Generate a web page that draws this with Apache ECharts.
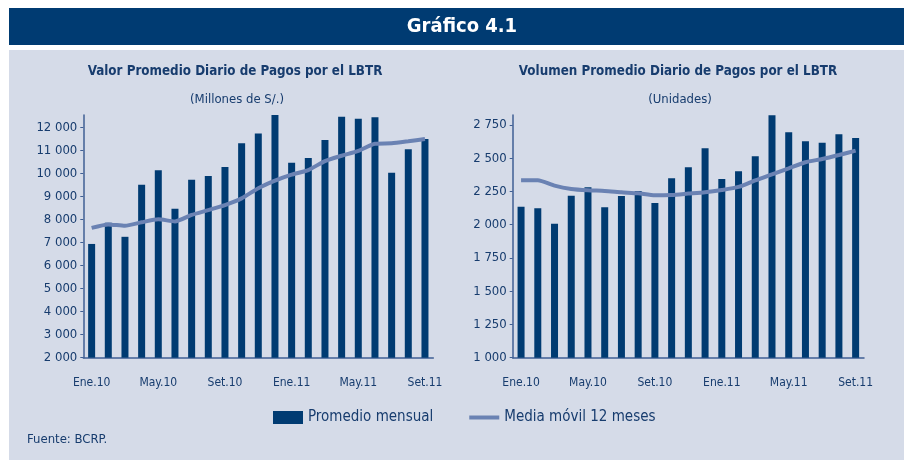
<!DOCTYPE html>
<html>
<head>
<meta charset="utf-8">
<script src="https://cdn.jsdelivr.net/npm/echarts@6/dist/echarts.min.js"></script>
<style>
  html, body { margin: 0; padding: 0; background: #fff; }
  #chart { width: 904px; height: 460px; }
</style>
</head>
<body>
<div id="chart"></div>
<script>
const months = ['Ene.10', 'Feb.10', 'Mar.10', 'Abr.10', 'May.10', 'Jun.10', 'Jul.10', 'Ago.10', 'Set.10', 'Oct.10', 'Nov.10', 'Dic.10',
  'Ene.11', 'Feb.11', 'Mar.11', 'Abr.11', 'May.11', 'Jun.11', 'Jul.11', 'Ago.11', 'Set.11']

// Valor promedio diario (millones de S/.)
const valorMensual = [6940, 7860, 7250, 9510, 10140, 8470, 9730, 9890, 10280, 11310, 11740, 12540,
  10470, 10670, 11450, 12460, 12380, 12440, 10030, 11050, 11500]
const valorMedia = [7640, 7790, 7730, 7880, 8010, 7920, 8200, 8410, 8630, 8920, 9360, 9690,
  9950, 10150, 10540, 10770, 10980, 11290, 11310, 11400, 11500]

// Volumen promedio diario (unidades)
const volumenMensual = [2136, 2124, 2008, 2218, 2281, 2131, 2216, 2254, 2163, 2349, 2432, 2575,
  2344, 2402, 2515, 2823, 2695, 2627, 2617, 2680, 2652]
const volumenMedia = [2334, 2334, 2294, 2269, 2259, 2254, 2244, 2236, 2221, 2224, 2234, 2244,
  2261, 2284, 2334, 2379, 2424, 2470, 2494, 2524, 2557]

const NAVY = '#003b72'
const TEXT = '#173c6e'
const LINE = '#6a82b3'
const AXIS = '#3f5f94'
const PANEL = '#d5dbe8'
const FONT = "'Liberation Sans Narrow', 'DejaVu Sans Condensed', sans-serif"

// 12 000 style thousands
function fmt(v) {
  if (v < 1000) return String(v)
  const r = String(v % 1000).padStart(3, '0')
  return Math.floor(v / 1000) + ' ' + r
}

function xAxis(gridIndex) {
  return {
    type: 'category',
    gridIndex,
    data: months,
    boundaryGap: true,
    axisLine: { lineStyle: { color: AXIS, width: 1.5 } },
    axisTick: { interval: 1, length: 5, lineStyle: { color: AXIS, width: 1.5 } },
    axisLabel: { interval: 3, margin: 19, fontSize: 12, color: TEXT, fontFamily: FONT },
  }
}

function yAxis(gridIndex, min, max, interval) {
  return {
    type: 'value',
    gridIndex,
    min, max, interval,
    axisLine: { show: true, lineStyle: { color: AXIS, width: 1.5 } },
    axisTick: { show: true, length: 3, lineStyle: { color: AXIS } },
    axisLabel: { showMaxLabel: false, margin: 6, fontSize: 13, color: TEXT, fontFamily: FONT, formatter: fmt },
    splitLine: { show: false },
  }
}

const chart = echarts.init(document.getElementById('chart'), null, { renderer: 'canvas' })

chart.setOption({
  animation: false,
  backgroundColor: '#fff',
  textStyle: { fontFamily: FONT },
  graphic: [
    { type: 'rect', shape: { x: 9, y: 8, width: 895, height: 37 }, style: { fill: NAVY }, z: -10 },
    { type: 'rect', shape: { x: 9, y: 50, width: 895, height: 410 }, style: { fill: PANEL }, z: -10 },
    { type: 'text', x: 462, y: 27, style: { text: 'Gráfico 4.1', fill: '#fff', font: 'bold 20px ' + FONT, textAlign: 'center', textVerticalAlign: 'middle' } },
    { type: 'text', x: 235, y: 72, style: { text: 'Valor Promedio Diario de Pagos por el LBTR', fill: TEXT, font: 'bold 13.3px ' + FONT, textAlign: 'center', textVerticalAlign: 'middle' } },
    { type: 'text', x: 678, y: 72, style: { text: 'Volumen Promedio Diario de Pagos por el LBTR', fill: TEXT, font: 'bold 13.3px ' + FONT, textAlign: 'center', textVerticalAlign: 'middle' } },
    { type: 'text', x: 237, y: 100, style: { text: '(Millones de S/.)', fill: TEXT, font: '13px ' + FONT, textAlign: 'center', textVerticalAlign: 'middle' } },
    { type: 'text', x: 680, y: 100, style: { text: '(Unidades)', fill: TEXT, font: '13px ' + FONT, textAlign: 'center', textVerticalAlign: 'middle' } },
    { type: 'text', x: 27, y: 440, style: { text: 'Fuente: BCRP.', fill: TEXT, font: '13px ' + FONT, textVerticalAlign: 'middle' } },
  ],
  legend: {
    left: 268,
    top: 405,
    itemWidth: 30,
    itemHeight: 13,
    itemGap: 36,
    textStyle: { fontSize: 15, color: TEXT, fontFamily: FONT },
    data: [
      { name: 'Promedio mensual', icon: 'rect' },
      { name: 'Media móvil 12 meses', icon: 'path://M0 0 L30 0 L30 4 L0 4 Z', itemStyle: { color: LINE } },
    ],
  },
  grid: [
    { left: 83.3, top: 115, width: 350, height: 242.7 },
    { left: 512.7, top: 115, width: 351.3, height: 242.7 },
  ],
  xAxis: [xAxis(0), xAxis(1)],
  yAxis: [yAxis(0, 2000, 12540, 1000), yAxis(1, 1000, 2825, 250)],
  series: [
    { name: 'Promedio mensual', type: 'bar', xAxisIndex: 0, yAxisIndex: 0, data: valorMensual, barWidth: 7, itemStyle: { color: NAVY } },
    { name: 'Media móvil 12 meses', type: 'line', xAxisIndex: 0, yAxisIndex: 0, data: valorMedia, symbol: 'none', smooth: 0.2, lineStyle: { width: 4, color: LINE }, itemStyle: { color: LINE } },
    { name: 'Promedio mensual', type: 'bar', xAxisIndex: 1, yAxisIndex: 1, data: volumenMensual, barWidth: 7, itemStyle: { color: NAVY } },
    { name: 'Media móvil 12 meses', type: 'line', xAxisIndex: 1, yAxisIndex: 1, data: volumenMedia, symbol: 'none', smooth: 0.2, lineStyle: { width: 4, color: LINE }, itemStyle: { color: LINE } },
  ],
})
</script>
</body>
</html>
